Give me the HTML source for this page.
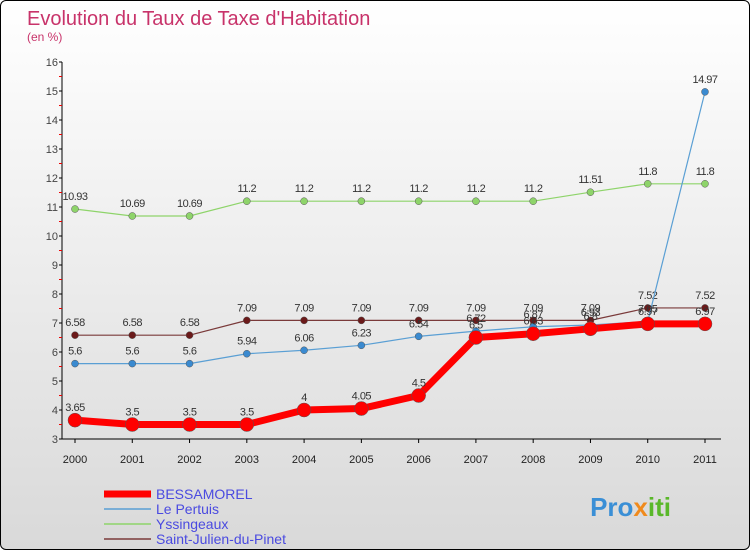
<!DOCTYPE html>
<html><head><meta charset="utf-8"><style>
body{margin:0;}
#c{width:748px;height:548px;border:1px solid #000;border-radius:6px;overflow:hidden;background:linear-gradient(#fff,#d9d9d9);position:relative;font-family:"Liberation Sans",sans-serif;}
</style></head><body>
<div id="c">
<svg id="s" width="748" height="548" xmlns="http://www.w3.org/2000/svg">
<text x="26" y="24" font-size="20" fill="#c8336a">Evolution du Taux de Taxe d'Habitation</text>
<text x="26" y="40" font-size="12" fill="#c8336a">(en %)</text>
<g id="g"></g>
<text x="670" y="515" font-size="26" font-weight="bold" fill="#3a8fd6" text-anchor="end">Pro<tspan fill="#f08a1c">x</tspan><tspan fill="#5ab82a">iti</tspan></text>
</svg></div>
<script>
const years=[2000,2001,2002,2003,2004,2005,2006,2007,2008,2009,2010,2011];
const bessamorel=[3.65,3.5,3.5,3.5,4,4.05,4.5,6.5,6.63,6.8,6.97,6.97];
const lePertuis=[5.6,5.6,5.6,5.94,6.06,6.23,6.54,6.72,6.87,6.93,7.05,14.97];
const yssingeaux=[10.93,10.69,10.69,11.2,11.2,11.2,11.2,11.2,11.2,11.51,11.8,11.8];
const saintJulien=[6.58,6.58,6.58,7.09,7.09,7.09,7.09,7.09,7.09,7.09,7.52,7.52];
const yTicks=[3,4,5,6,7,8,9,10,11,12,13,14,15,16];
const seriesNames=["BESSAMOREL","Le Pertuis","Yssingeaux","Saint-Julien-du-Pinet"];
const NS="http://www.w3.org/2000/svg";
const g=document.getElementById('g');
const x=i=>74+i*(630/11), y=v=>438-(v-3)*(377/13);
function el(t,a,txt){const e=document.createElementNS(NS,t);for(const k in a)e.setAttribute(k,a[k]);if(txt!==undefined)e.textContent=txt;g.appendChild(e);return e;}
let e=el('line',{x1:61,y1:y(16),x2:61,y2:y(3),stroke:'#000'});


e=el('line',{x1:61,y1:y(3),x2:720,y2:y(3),stroke:'#000'});


yTicks.forEach(v=>{
 el('line',{x1:58,y1:y(v),x2:61,y2:y(v),stroke:'#000'});
 if(v<16) el('line',{x1:58,y1:y(v+0.5),x2:61,y2:y(v+0.5),stroke:'#e00'});
 const t=el('text',{x:57,y:y(v)+4,'font-size':11,fill:'#444','text-anchor':'end'},v);
 
 
});
years.forEach((yr,i)=>{
 el('line',{x1:x(i),y1:y(3),x2:x(i),y2:y(3)+4,stroke:'#000'});
 const t=el('text',{x:x(i),y:y(3)+24,'font-size':11,fill:'#222','text-anchor':'middle'},yr);
 
 
});
function series(vals,color,w,r,dot,name){
 const p=el('polyline',{points:vals.map((v,i)=>x(i)+','+y(v)).join(' '),fill:'none',stroke:color,'stroke-width':w,'stroke-linejoin':'round'});
 
 
 vals.forEach((v,i)=>{
  const c=el('circle',{cx:x(i),cy:y(v),r:r,fill:dot,stroke:'#555','stroke-width':0.5});
  
  
  const t=el('text',{x:x(i),y:y(v)-9,'font-size':11,fill:'#333','text-anchor':'middle','letter-spacing':'-0.5'},v);
  
  
 });
}
series(yssingeaux,'#8ed46a',1.2,3.5,'#8ed46a','yssingeaux');
series(saintJulien,'#7a3a3a',1.2,3.5,'#6b1a1a','saint-julien');
series(lePertuis,'#5a9fd4',1.2,3.5,'#3a8ad0','le-pertuis');
series(bessamorel,'#ff0000',7,7,'#ff0000','bessamorel');
const lc=['#ff0000','#5a9fd4','#8ed46a','#7a3a3a'],lw=[7,1.5,1.5,1.5];
seriesNames.forEach((n,i)=>{
 const yy=493+i*15;
 const l=el('line',{x1:103,y1:yy,x2:150,y2:yy,stroke:lc[i],'stroke-width':lw[i]});
 
 
 const t=el('text',{x:155,y:yy+5,'font-size':14,fill:'#4a4ae0'},n);
 
 
});
</script>
</body></html>
